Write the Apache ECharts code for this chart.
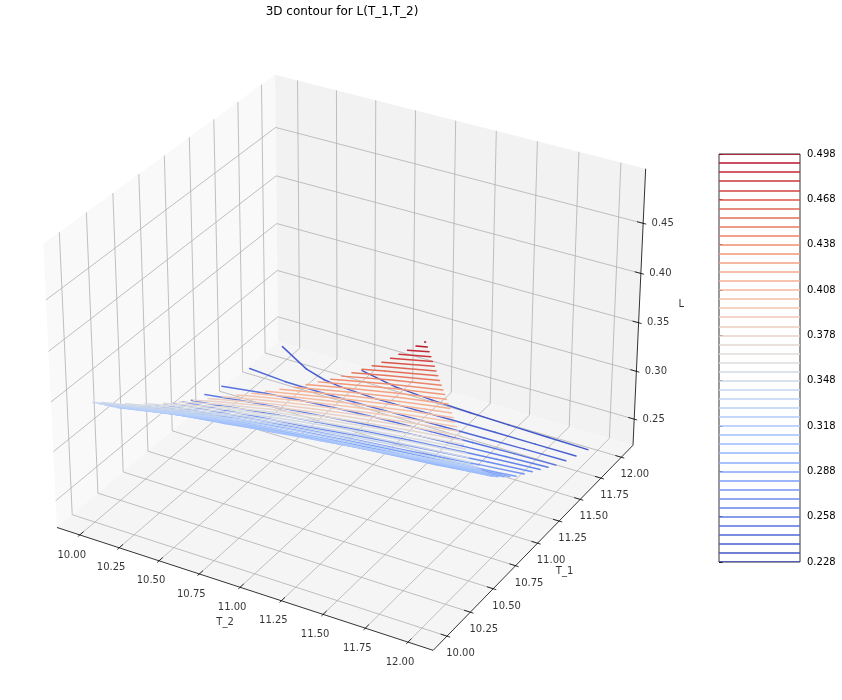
<!DOCTYPE html>
<html>
<head>
<meta charset="utf-8">
<title>3D contour for L(T_1,T_2)</title>
<script src="https://cdn.jsdelivr.net/npm/echarts@6/dist/echarts.min.js"></script>
<style>
  html, body { margin: 0; padding: 0; background: #fff; }
  #chart { width: 842px; height: 700px; }
</style>
</head>
<body>
<div id="chart"></div>
<script>
// sample points of the surface
const t2Values = [10, 10.25, 10.5, 10.75, 11, 11.25, 11.5, 11.75, 12];
const t1Values = [10, 10.25, 10.5, 10.75, 11, 11.25, 11.5, 11.75, 12];
// L values, one row per T_1 value, one column per T_2 value
const lRows = [
  [0.345, 0.355, 0.368, 0.385, 0.402, 0.420, 0.441, 0.467, 0.4985],
  [0.318, 0.326, 0.3355, 0.347, 0.3585, 0.3704, 0.3838, 0.3997, 0.418],
  [0.297, 0.3011, 0.3056, 0.3107, 0.3158, 0.321, 0.3266, 0.3329, 0.340],
  [0.279, 0.2819, 0.2849, 0.288, 0.2912, 0.2944, 0.2977, 0.3012, 0.305],
  [0.2625, 0.2651, 0.2676, 0.2702, 0.2728, 0.2753, 0.2779, 0.2804, 0.283],
  [0.253, 0.2548, 0.2565, 0.2583, 0.260, 0.2618, 0.2635, 0.2653, 0.267],
  [0.2475, 0.2479, 0.2484, 0.2488, 0.2493, 0.2497, 0.2501, 0.2506, 0.251],
  [0.2435, 0.2410, 0.2393, 0.2385, 0.2387, 0.2389, 0.2390, 0.2390, 0.239],
  [0.2392, 0.2362, 0.234, 0.2325, 0.2315, 0.2307, 0.230, 0.2295, 0.229]
];
// contour levels (also the colorbar entries)
const levels = [
  0.228, 0.234, 0.240, 0.246, 0.252, 0.258, 0.264, 0.270, 0.276, 0.282,
  0.288, 0.294, 0.300, 0.306, 0.312, 0.318, 0.324, 0.330, 0.336, 0.342,
  0.348, 0.354, 0.360, 0.366, 0.372, 0.378, 0.384, 0.390, 0.396, 0.402,
  0.408, 0.414, 0.420, 0.426, 0.432, 0.438, 0.444, 0.450, 0.456, 0.462,
  0.468, 0.474, 0.480, 0.486, 0.492, 0.498
];
const t2Ticks = [10, 10.25, 10.5, 10.75, 11, 11.25, 11.5, 11.75, 12];
const t1Ticks = [10, 10.25, 10.5, 10.75, 11, 11.25, 11.5, 11.75, 12];
const lTicks = [0.25, 0.30, 0.35, 0.40, 0.45];
// coolwarm stops
const coolwarm = [
  [59, 76, 192], [98, 130, 234], [141, 176, 254], [184, 208, 249], [221, 221, 221],
  [245, 196, 173], [244, 154, 123], [222, 96, 77], [180, 4, 38]
];

const FONT = 'DejaVu Sans';

// view like matplotlib's default 3d axes: elev 30, azim -60, box aspect 4:4:3
const elev = 30 * Math.PI / 180, azim = -60 * Math.PI / 180;
const DIST = 10, ASPECT = [8 / 7, 8 / 7, 6 / 7];
const SCALE = 3620, CX = 350.3, CY = 348.7;

const dot = (a, b) => a[0] * b[0] + a[1] * b[1] + a[2] * b[2];
const viewN = [Math.cos(elev) * Math.cos(azim), Math.cos(elev) * Math.sin(azim), Math.sin(elev)];
const uLen = Math.hypot(viewN[0], viewN[1]);
const viewU = [-viewN[1] / uLen, viewN[0] / uLen, 0];
const viewV = [
  viewN[1] * viewU[2] - viewN[2] * viewU[1],
  viewN[2] * viewU[0] - viewN[0] * viewU[2],
  viewN[0] * viewU[1] - viewN[1] * viewU[0]
];

const span = (arr) => [Math.min(...arr), Math.max(...arr)];
const withMargin = ([a, b]) => [a - 0.05 * (b - a), b + 0.05 * (b - a)];
const xLim = withMargin(span(t2Values));
const yLim = withMargin(span(t1Values));
const zLim = [levels[0], levels[levels.length - 1]];

function project(x, y, z) {
  const d = [
    ((x - xLim[0]) / (xLim[1] - xLim[0]) - 0.5) * ASPECT[0],
    ((y - yLim[0]) / (yLim[1] - yLim[0]) - 0.5) * ASPECT[1],
    ((z - zLim[0]) / (zLim[1] - zLim[0]) - 0.5) * ASPECT[2]
  ];
  const w = DIST - dot(viewN, d);
  return [CX + SCALE * dot(viewU, d) / w, CY - SCALE * dot(viewV, d) / w];
}

// box drawn slightly outside the limits, as matplotlib does
const pad = ([a, b]) => [a - (b - a) / 48, b + (b - a) / 48];
const [xb0, xb1] = pad(xLim), [yb0, yb1] = pad(yLim), [zb0, zb1] = pad(zLim);

function cmap(t) {
  const s = Math.max(0, Math.min(1, t)) * (coolwarm.length - 1);
  const k = Math.min(Math.floor(s), coolwarm.length - 2), f = s - k;
  const c = coolwarm[k].map((v, i) => Math.round(v + f * (coolwarm[k + 1][i] - v)));
  return 'rgb(' + c.join(',') + ')';
}
const levelColor = lv => cmap((lv - levels[0]) / (levels[levels.length - 1] - levels[0]));

// marching squares over the sample grid
function contourSegments(level) {
  const segs = [];
  for (let j = 0; j < t1Values.length - 1; j++) {
    for (let i = 0; i < t2Values.length - 1; i++) {
      const c = [
        [t2Values[i], t1Values[j], lRows[j][i]],
        [t2Values[i + 1], t1Values[j], lRows[j][i + 1]],
        [t2Values[i + 1], t1Values[j + 1], lRows[j + 1][i + 1]],
        [t2Values[i], t1Values[j + 1], lRows[j + 1][i]]
      ];
      const pts = [];
      for (let e = 0; e < 4; e++) {
        const a = c[e], b = c[(e + 1) % 4];
        if ((a[2] >= level) !== (b[2] >= level)) {
          const t = (level - a[2]) / (b[2] - a[2]);
          pts.push([a[0] + t * (b[0] - a[0]), a[1] + t * (b[1] - a[1])]);
        }
      }
      if (pts.length === 2) {
        segs.push(pts);
      } else if (pts.length === 4) {
        const mid = (c[0][2] + c[1][2] + c[2][2] + c[3][2]) / 4;
        if ((mid >= level) === (c[0][2] >= level)) {
          segs.push([pts[0], pts[1]], [pts[2], pts[3]]);
        } else {
          segs.push([pts[3], pts[0]], [pts[1], pts[2]]);
        }
      }
    }
  }
  return segs;
}

// panes
const panes = [
  { pts: [[xb0, yb0, zb0], [xb0, yb1, zb0], [xb0, yb1, zb1], [xb0, yb0, zb1]], fill: '#f9f9f9' },
  { pts: [[xb0, yb1, zb0], [xb1, yb1, zb0], [xb1, yb1, zb1], [xb0, yb1, zb1]], fill: '#f2f2f2' },
  { pts: [[xb0, yb0, zb0], [xb1, yb0, zb0], [xb1, yb1, zb0], [xb0, yb1, zb0]], fill: '#f5f5f5' }
];

// grid lines on the panes
const gridPaths = [];
t2Ticks.forEach(x => gridPaths.push([[x, yb0, zb0], [x, yb1, zb0], [x, yb1, zb1]]));
t1Ticks.forEach(y => gridPaths.push([[xb1, y, zb0], [xb0, y, zb0], [xb0, y, zb1]]));
lTicks.forEach(z => gridPaths.push([[xb0, yb0, z], [xb0, yb1, z], [xb1, yb1, z]]));

// axis lines and tick marks
const dX = (xLim[1] - xLim[0]) / 12, dY = (yLim[1] - yLim[0]) / 12;
const axisPaths = [
  [[xb0, yb0, zb0], [xb1, yb0, zb0]],
  [[xb1, yb0, zb0], [xb1, yb1, zb0]],
  [[xb1, yb1, zb0], [xb1, yb1, zb1]]
];
t2Ticks.forEach(x => axisPaths.push([[x, yb0 - 0.1 * dY, zb0], [x, yb0 + 0.2 * dY, zb0]]));
t1Ticks.forEach(y => axisPaths.push([[xb1 + 0.1 * dX, y, zb0], [xb1 - 0.2 * dX, y, zb0]]));
lTicks.forEach(z => axisPaths.push([[xb1 + 0.1 * dX, yb1, z], [xb1 - 0.2 * dX, yb1, z]]));

const toLines = (paths, color, width) => paths.map(p => ({
  coords: p.map(q => project(q[0], q[1], q[2])),
  lineStyle: { color, width }
}));

// contour lines
const contourData = [];
levels.forEach(lv => {
  const color = levelColor(lv);
  contourSegments(lv).forEach(seg => {
    contourData.push({
      coords: seg.map(p => project(p[0], p[1], lv)),
      lineStyle: { color, width: 1.5 }
    });
  });
});

// text placed next to projected axis points
const shift = (pt, dx, dy) => [pt[0] + dx, pt[1] + dy];
const labelData = [];
t2Ticks.forEach(x => labelData.push({ name: x.toFixed(2), value: shift(project(x, yb0, zb0), -8, 20) }));
t1Ticks.forEach(y => labelData.push({ name: y.toFixed(2), value: shift(project(xb1, y, zb0), 13.5, 17.5) }));
lTicks.forEach(z => labelData.push({ name: z.toFixed(2), value: shift(project(xb1, yb1, z), 19.5, 0) }));
const midX = (xLim[0] + xLim[1]) / 2, midY = (yLim[0] + yLim[1]) / 2, midZ = (zLim[0] + zLim[1]) / 2;
labelData.push({ name: 'T_2', value: shift(project(midX, yb0, zb0), -15, 35) });
labelData.push({ name: 'T_1', value: shift(project(xb1, midY, zb0), 27, 28) });
labelData.push({ name: 'L', value: shift(project(xb1, yb1, midZ), 42, -6) });

// colorbar
const levelNames = levels.map(v => v.toFixed(3));
const barData = levels.map((lv, k) => ({
  coords: [[0, k], [1, k]],
  lineStyle: { color: levelColor(lv), width: 1.5 }
}));

const chart = echarts.init(document.getElementById('chart'));
const option = {
  animation: false,
  backgroundColor: '#fff',
  title: {
    text: '3D contour for L(T_1,T_2)',
    left: 342, top: 6, padding: 0, textAlign: 'center',
    textStyle: { fontFamily: FONT, fontSize: 12, fontWeight: 'normal', color: '#000' }
  },
  grid: [
    { left: 0, top: 0, width: 842, height: 700, show: false },
    { left: 719, top: 154, width: 81, height: 408, show: true, borderColor: '#000', borderWidth: 0.8, backgroundColor: '#fff' }
  ],
  xAxis: [
    { type: 'value', gridIndex: 0, min: 0, max: 842, show: false },
    { type: 'value', gridIndex: 1, min: 0, max: 1, show: false }
  ],
  yAxis: [
    { type: 'value', gridIndex: 0, min: 0, max: 700, inverse: true, show: false },
    {
      type: 'category', gridIndex: 1, data: levelNames, boundaryGap: false, position: 'right',
      axisLine: { show: false },
      axisTick: { show: true, interval: 4, length: 3.5, lineStyle: { color: '#000', width: 0.8 } },
      axisLabel: { interval: 4, margin: 7, color: '#000', fontFamily: FONT, fontSize: 10 },
      splitLine: { show: false }
    }
  ],
  series: [
    {
      type: 'custom', xAxisIndex: 0, yAxisIndex: 0, silent: true,
      data: panes.map((p, i) => [i, 0]),
      renderItem: (params, api) => {
        const pane = panes[params.dataIndex];
        return {
          type: 'polygon',
          shape: { points: pane.pts.map(q => api.coord(project(q[0], q[1], q[2]))) },
          style: { fill: pane.fill, stroke: null }
        };
      }
    },
    {
      type: 'lines', coordinateSystem: 'cartesian2d', xAxisIndex: 0, yAxisIndex: 0,
      polyline: true, silent: true, large: false,
      lineStyle: { opacity: 1, curveness: 0 },
      data: toLines(gridPaths, '#b0b0b0', 0.8)
    },
    {
      type: 'lines', coordinateSystem: 'cartesian2d', xAxisIndex: 0, yAxisIndex: 0,
      polyline: true, silent: true, large: false,
      lineStyle: { opacity: 1, curveness: 0 },
      data: toLines(axisPaths, '#000', 0.8)
    },
    {
      type: 'lines', coordinateSystem: 'cartesian2d', xAxisIndex: 0, yAxisIndex: 0,
      polyline: true, silent: true, large: false,
      lineStyle: { opacity: 1, curveness: 0, cap: 'round' },
      data: contourData
    },
    {
      type: 'scatter', xAxisIndex: 0, yAxisIndex: 0, silent: true,
      symbolSize: 1, itemStyle: { color: 'rgba(0,0,0,0)' },
      label: { show: true, position: 'inside', formatter: '{b}', color: '#000', fontFamily: FONT, fontSize: 10 },
      data: labelData
    },
    {
      type: 'lines', coordinateSystem: 'cartesian2d', xAxisIndex: 1, yAxisIndex: 1,
      silent: true, large: false,
      lineStyle: { opacity: 1, curveness: 0 },
      data: barData
    }
  ]
};
chart.setOption(option);

window.addEventListener('resize', () => chart.resize());
</script>
</body>
</html>
